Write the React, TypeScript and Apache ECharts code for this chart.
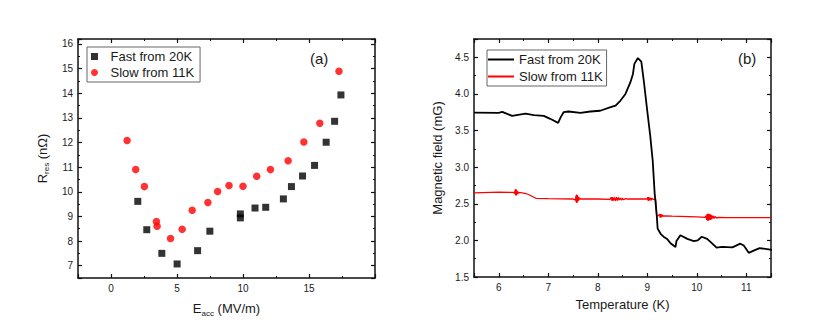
import React, { useEffect, useRef } from "react";
import * as echarts from "echarts";

// ---- Panel (a) data ----
const fastX = [2.03, 2.71, 3.85, 5.01, 6.56, 7.49, 9.8, 9.8, 10.91, 11.72, 13.06, 13.67, 14.51, 15.42, 16.3, 16.94, 17.42];
const fastY = [9.61, 8.46, 7.5, 7.07, 7.61, 8.4, 9.1, 8.94, 9.34, 9.37, 9.71, 10.21, 10.64, 11.07, 12.01, 12.86, 13.93];
const slowX = [1.22, 1.87, 2.53, 3.44, 3.49, 4.51, 5.39, 6.15, 7.34, 8.08, 8.94, 10.0, 11.04, 12.08, 13.42, 14.61, 15.82, 17.27];
const slowY = [12.08, 10.9, 10.21, 8.79, 8.6, 8.1, 8.48, 9.25, 9.56, 10.01, 10.25, 10.22, 10.63, 10.9, 11.26, 12.02, 12.78, 14.89];

// ---- Panel (b) data ----
const fastT = [5.5, 6.0, 6.07, 6.27, 6.54, 6.71, 6.91, 7.04, 7.2, 7.25, 7.31, 7.41, 7.65, 7.85, 8.05, 8.26, 8.36, 8.46, 8.56, 8.66, 8.71, 8.74, 8.81, 8.88, 8.93, 9.0, 9.06, 9.11, 9.15, 9.19, 9.21, 9.27, 9.33, 9.4, 9.47, 9.57, 9.59, 9.67, 9.81, 9.94, 10.02, 10.1, 10.21, 10.31, 10.4, 10.51, 10.72, 10.88, 10.95, 11.05, 11.15, 11.27, 11.52];
const fastB = [3.745, 3.74, 3.755, 3.7, 3.73, 3.71, 3.7, 3.66, 3.605, 3.68, 3.75, 3.76, 3.74, 3.76, 3.77, 3.82, 3.84, 3.91, 4.0, 4.16, 4.27, 4.41, 4.49, 4.44, 4.18, 3.77, 3.43, 3.09, 2.64, 2.36, 2.16, 2.09, 2.05, 2.02, 1.96, 1.91, 1.99, 2.07, 2.02, 1.99, 2.0, 2.05, 2.02, 1.96, 1.9, 1.91, 1.905, 1.955, 1.93, 1.83, 1.86, 1.895, 1.87];
const slowT = [5.5, 6.0, 6.3, 6.32, 6.33, 6.34, 6.345, 6.35, 6.355, 6.36, 6.365, 6.37, 6.375, 6.38, 6.39, 6.4, 6.42, 6.55, 6.62, 6.75, 7.0, 7.5, 7.55, 7.56, 7.565, 7.57, 7.575, 7.58, 7.585, 7.59, 7.595, 7.6, 7.605, 7.61, 7.62, 7.63, 7.65, 8.0, 8.25, 8.27, 8.29, 8.3, 8.32, 8.34, 8.36, 8.38, 8.4, 8.42, 8.44, 8.46, 8.48, 8.5, 8.52, 8.56, 8.6, 8.8, 9.0, 9.01, 9.02, 9.03, 9.04, 9.05, 9.06, 9.07, 9.08, 9.1, 9.12, 9.17, 9.19, 9.23, 9.25, 9.26, 9.27, 9.28, 9.29, 9.3, 9.31, 9.33, 9.36, 9.5, 10.0, 10.17, 10.19, 10.2, 10.21, 10.22, 10.23, 10.24, 10.25, 10.26, 10.27, 10.28, 10.29, 10.3, 10.31, 10.32, 10.33, 10.35, 10.37, 10.4, 10.44, 10.6, 11.0, 11.5];
const slowB = [2.65, 2.66, 2.655, 2.64, 2.69, 2.62, 2.7, 2.61, 2.69, 2.62, 2.68, 2.63, 2.67, 2.635, 2.665, 2.645, 2.655, 2.64, 2.62, 2.575, 2.57, 2.565, 2.55, 2.61, 2.52, 2.625, 2.51, 2.62, 2.52, 2.615, 2.53, 2.6, 2.54, 2.59, 2.55, 2.58, 2.565, 2.565, 2.56, 2.59, 2.54, 2.59, 2.545, 2.585, 2.54, 2.59, 2.545, 2.585, 2.55, 2.58, 2.55, 2.575, 2.555, 2.57, 2.565, 2.565, 2.565, 2.59, 2.54, 2.59, 2.545, 2.585, 2.545, 2.58, 2.55, 2.575, 2.56, 2.56, 2.33, 2.34, 2.36, 2.31, 2.36, 2.315, 2.355, 2.32, 2.345, 2.33, 2.335, 2.33, 2.32, 2.315, 2.34, 2.28, 2.36, 2.27, 2.365, 2.27, 2.36, 2.28, 2.355, 2.28, 2.35, 2.29, 2.34, 2.3, 2.335, 2.3, 2.325, 2.305, 2.315, 2.31, 2.31, 2.31];

const FONT = "Liberation Sans, Arial, sans-serif";
const TXT = "#1a1a1a";
const SQUARE = "path://M0,0L10,0L10,10L0,10Z";

function axisCommon(min: number, max: number, extra: any = {}) {
  return {
    type: "value",
    min,
    max,
    axisLine: { show: true, onZero: false, lineStyle: { color: "#111", width: 1.5 } },
    axisTick: { show: true, inside: true, length: 4, lineStyle: { color: "#111", width: 1.2 } },
    minorTick: { show: true, splitNumber: 2, length: 2, lineStyle: { color: "#111", width: 1 } },
    splitLine: { show: false },
    axisLabel: { show: true, color: TXT, fontSize: 10, fontFamily: FONT, margin: 5, showMinLabel: false, showMaxLabel: false },
    ...extra,
  };
}

function mirror(axis: any, pos: string) {
  return { ...axis, position: pos, name: "", axisLabel: { show: false } };
}

const nameRich = {
  sub: { fontSize: 8, fontFamily: FONT, color: TXT, verticalAlign: "bottom", lineHeight: 8 },
};

function optionA(): any {
  const xa = axisCommon(-2.5, 20, {
    splitNumber: 5,
    name: "E{sub|acc} (MV/m)",
    nameLocation: "middle",
    nameGap: 22,
    nameTextStyle: { fontSize: 13, fontFamily: FONT, color: TXT, verticalAlign: "top", lineHeight: 17, rich: nameRich },
  });
  const ya = axisCommon(6.5, 16.2, {
    splitNumber: 10,
    name: "R{sub|res} (nΩ)",
    nameLocation: "middle",
    nameRotate: 90,
    nameGap: 17,
    nameTextStyle: { fontSize: 13, fontFamily: FONT, color: TXT, verticalAlign: "top", lineHeight: 17, rich: nameRich },
  });
  return {
    animation: false,
    grid: { left: 78, top: 39, width: 297, height: 239 },
    xAxis: [{ ...xa, position: "bottom" }, mirror(xa, "top")],
    yAxis: [{ ...ya, position: "left" }, mirror(ya, "right")],
    legend: {
      orient: "vertical",
      left: 87,
      top: 47,
      padding: [3, 6, 3, 4],
      itemGap: 3,
      itemWidth: 22,
      itemHeight: 7,
      symbolKeepAspect: true,
      borderColor: "#666",
      borderWidth: 1,
      textStyle: { fontSize: 13, fontFamily: FONT, color: TXT },
      data: [
        { name: "Fast from 20K", icon: SQUARE },
        { name: "Slow from 11K", icon: "circle" },
      ],
    },
    graphic: [
      { type: "text", left: 310, top: 51, style: { text: "(a)", fontSize: 15, fontFamily: FONT, fill: TXT } },
    ],
    series: [
      {
        name: "Fast from 20K",
        type: "scatter",
        symbol: "rect",
        symbolSize: 7,
        itemStyle: { color: "#000" },
        data: fastX.map((x, i) => [x, fastY[i]]),
      },
      {
        name: "Slow from 11K",
        type: "scatter",
        symbol: "circle",
        symbolSize: 7.5,
        itemStyle: { color: "#ff0000" },
        data: slowX.map((x, i) => [x, slowY[i]]),
      },
    ],
  };
}

function optionB(): any {
  const xb = axisCommon(5.5, 11.5, {
    splitNumber: 6,
    name: "Temperature (K)",
    nameLocation: "middle",
    nameGap: 21,
    nameTextStyle: { fontSize: 13, fontFamily: FONT, color: TXT },
  });
  const yb = axisCommon(1.5, 4.75, {
    interval: 0.5,
    name: "Magnetic field (mG)",
    nameLocation: "middle",
    nameRotate: 90,
    nameGap: 29,
    nameTextStyle: { fontSize: 13, fontFamily: FONT, color: TXT },
  });
  yb.axisLabel = { ...yb.axisLabel, showMinLabel: true, formatter: (v: number) => v.toFixed(1) };
  return {
    animation: false,
    grid: { left: 59, top: 39, width: 297, height: 238 },
    xAxis: [{ ...xb, position: "bottom" }, mirror(xb, "top")],
    yAxis: [{ ...yb, position: "left" }, mirror(yb, "right")],
    legend: {
      orient: "vertical",
      left: 72,
      top: 50,
      padding: [3, 4, 3, 1],
      itemGap: 4,
      itemWidth: 26,
      itemHeight: 2,
      borderColor: "#666",
      borderWidth: 1,
      textStyle: { fontSize: 13, fontFamily: FONT, color: TXT },
      data: [
        { name: "Fast from 20K", icon: "rect" },
        { name: "Slow from 11K", icon: "rect" },
      ],
    },
    graphic: [
      { type: "text", left: 323, top: 51, style: { text: "(b)", fontSize: 15, fontFamily: FONT, fill: TXT } },
    ],
    series: [
      {
        name: "Fast from 20K",
        type: "line",
        symbol: "none",
        showSymbol: false,
        lineStyle: { color: "#000", width: 1.8 },
        itemStyle: { color: "#000" },
        data: fastT.map((t, i) => [t, fastB[i]]),
        z: 3,
      },
      {
        name: "Slow from 11K",
        type: "line",
        symbol: "none",
        showSymbol: false,
        lineStyle: { color: "#ff0000", width: 1.3 },
        itemStyle: { color: "#ff0000" },
        data: slowT.map((t, i) => [t, slowB[i]]),
        z: 2,
      },
    ],
  };
}

export default function App() {
  const refA = useRef<HTMLDivElement>(null);
  const refB = useRef<HTMLDivElement>(null);
  useEffect(() => {
    const a = echarts.init(refA.current!, null, { renderer: "svg" });
    const b = echarts.init(refB.current!, null, { renderer: "svg" });
    a.setOption(optionA());
    b.setOption(optionB());
    return () => {
      a.dispose();
      b.dispose();
    };
  }, []);
  return (
    <div style={{ position: "absolute", left: 0, top: 0, width: 831, height: 334, background: "#fff" }}>
      <div ref={refA} style={{ position: "absolute", left: 0, top: 0, width: 415, height: 334 }} />
      <div ref={refB} style={{ position: "absolute", left: 415, top: 0, width: 416, height: 334 }} />
    </div>
  );
}
